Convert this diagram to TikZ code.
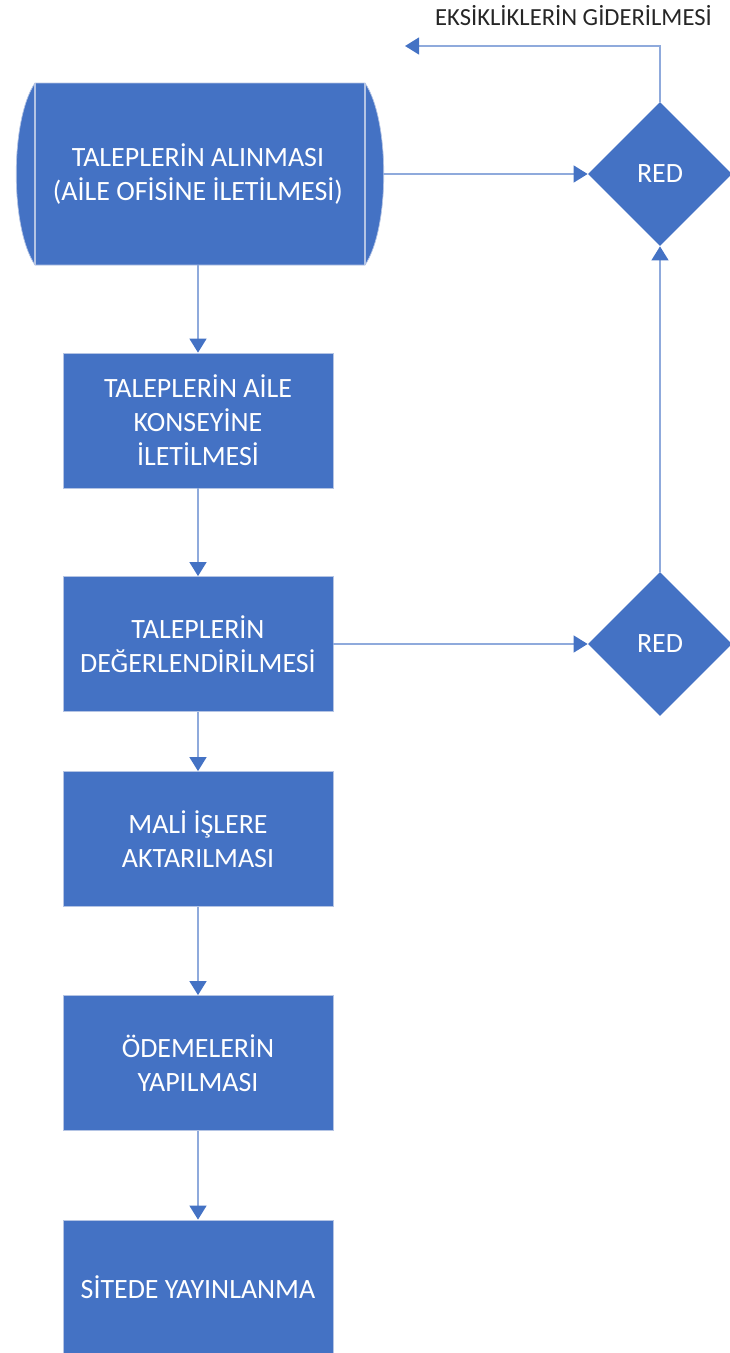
\documentclass[tikz,border=0pt]{standalone}
\usepackage{fontspec}
\setmainfont{Carlito}
\usetikzlibrary{shapes.geometric,arrows.meta}
\definecolor{mavi}{HTML}{4472C4}
\definecolor{acikmavi}{HTML}{8FAADC}
\definecolor{kenar}{HTML}{B4C4E4}

\begin{document}
\begin{tikzpicture}[x=0.02cm,y=-0.02cm,
	kutu/.style={rectangle,fill=mavi,draw=kenar,line width=0.4pt,text=white,align=center,
		minimum width=5.4cm,minimum height=2.7cm,inner sep=0pt,font=\fontsize{15.9}{19.4}\selectfont},
	karar/.style={diamond,fill=mavi,text=white,minimum width=2.88cm,minimum height=2.88cm,
		inner sep=0pt,font=\fontsize{15.9}{19.4}\selectfont},
	ok/.style={draw=acikmavi,line width=1.4pt,-{Triangle[width=9.5pt,length=8pt,color=mavi,fill=mavi]}}]
	\useasboundingbox (0,0) rectangle (730,1353);
	% silindir
	\filldraw[fill=mavi,draw=kenar,line width=0.4pt] (35,83) -- (365,83) .. controls (390,120) and (390,228) .. (365,265)
		-- (35,265) .. controls (10,228) and (10,120) .. (35,83) -- cycle;
	\draw[kenar,line width=0.6pt] (35,83) -- (35,265);
	\draw[kenar,line width=0.6pt] (365,83) -- (365,265);
	\node[text=white,align=center,minimum width=7.38cm,minimum height=3.64cm,inner sep=0pt,
		font=\fontsize{15.9}{19.4}\selectfont] (alinma) at (198,174) {TALEPLERİN ALINMASI\\(AİLE OFİSİNE İLETİLMESİ)};
	% kutular
	\node[kutu] (konsey) at (198,420.5) {TALEPLERİN AİLE\\KONSEYİNE\\İLETİLMESİ};
	\node[kutu] (deger) at (198,644) {TALEPLERİN\\DEĞERLENDİRİLMESİ};
	\node[kutu] (mali) at (198,839) {MALİ İŞLERE\\AKTARILMASI};
	\node[kutu] (odeme) at (198,1063) {ÖDEMELERİN\\YAPILMASI};
	\node[kutu] (site) at (198,1287.5) {SİTEDE YAYINLANMA};
	% kararlar
	\node[karar] (red1) at (660,174) {RED};
	\node[karar] (red2) at (660,644) {RED};
	\node[anchor=east,text=black!85,font=\fontsize{14}{17}\selectfont] (eksik) at (718,16) {EKSİKLİKLERİN GİDERİLMESİ};
	\coordinate (geri) at (405,46);
	% oklar
	\draw[ok] (alinma) -- (konsey);
	\draw[ok] (konsey) -- (deger);
	\draw[ok] (deger) -- (mali);
	\draw[ok] (mali) -- (odeme);
	\draw[ok] (odeme) -- (site);
	\draw[ok] (alinma.east) -- (red1.west);
	\draw[ok] (deger.east) -- (red2.west);
	\draw[ok] (red2.north) -- (red1.south);
	\draw[ok] (red1.north) |- (geri);
\end{tikzpicture}
\end{document}
